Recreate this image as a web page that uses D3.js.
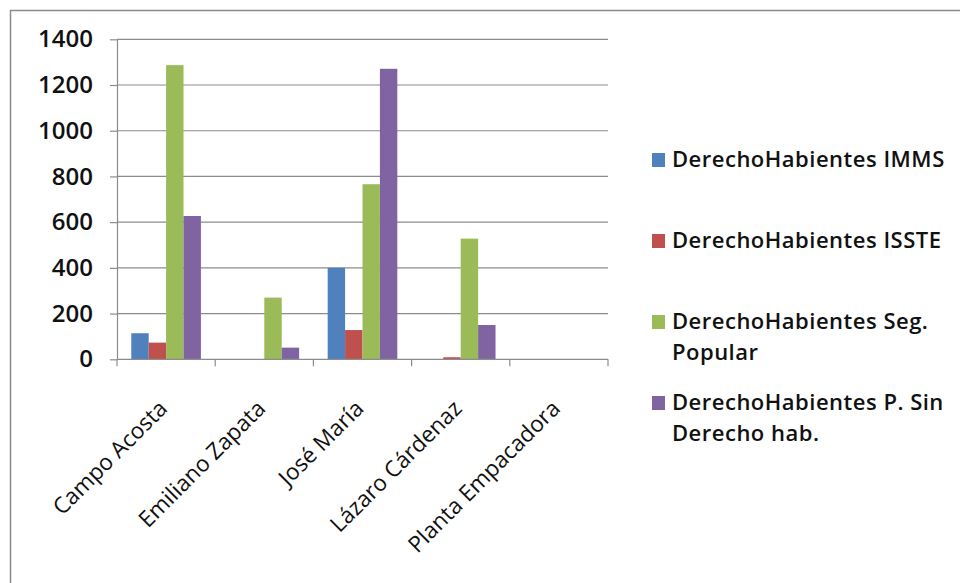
<!DOCTYPE html>
<html>
<head>
<meta charset="utf-8">
<script src="https://cdn.jsdelivr.net/npm/d3@7"></script>
<style>
  html, body { margin: 0; padding: 0; background: #fff; }
  svg { display: block; }
</style>
</head>
<body>
<svg id="chart" width="960" height="583"></svg>
<script>
// Localidades
const categories = ["Campo Acosta", "Emiliano Zapata", "José María", "Lázaro Cárdenaz", "Planta Empacadora"];

// Series names (legend order)
const seriesNames = [
  "DerechoHabientes IMMS",
  "DerechoHabientes ISSTE",
  "DerechoHabientes Seg. Popular",
  "DerechoHabientes P. Sin Derecho hab."
];

// Values per localidad, one array per series
const imms     = [114, 0, 400, 0, 0];
const isste    = [73, 0, 128, 9, 0];
const segPop   = [1287, 270, 766, 528, 0];
const sinDer   = [627, 51, 1271, 150, 0];

const yTicks = [0, 200, 400, 600, 800, 1000, 1200, 1400];

const seriesValues = [imms, isste, segPop, sinDer];
const colors = ["#4F81BD", "#C0504D", "#9BBB59", "#8064A2"];

const svg = d3.select("#chart");

// outer chart frame
svg.append("rect")
  .attr("x", 10.5).attr("y", 10.5)
  .attr("width", 1000).attr("height", 1000)
  .attr("fill", "#fff")
  .attr("stroke", "#8a8a8a")
  .attr("stroke-width", 1.5);

const plot = { left: 117, right: 608, top: 39.3, bottom: 359.3 };

const x0 = d3.scaleBand()
  .domain(categories)
  .range([plot.left, plot.right])
  .paddingInner(0)
  .paddingOuter(0);

const x1 = d3.scaleBand()
  .domain(d3.range(seriesNames.length))
  .range([0, x0.bandwidth()])
  .paddingOuter(0.82)
  .paddingInner(0);

const y = d3.scaleLinear()
  .domain([0, 1400])
  .range([plot.bottom, plot.top]);

// gridlines
svg.append("g")
  .selectAll("line")
  .data(yTicks.filter(d => d > 0))
  .join("line")
  .attr("x1", plot.left).attr("x2", plot.right)
  .attr("y1", d => y(d)).attr("y2", d => y(d))
  .attr("stroke", "#8c8c8c")
  .attr("stroke-width", 1.2);

// bars
const groups = svg.append("g")
  .selectAll("g")
  .data(categories)
  .join("g")
  .attr("transform", d => `translate(${x0(d)},0)`);

groups.selectAll("rect")
  .data((c, ci) => seriesValues.map((vals, si) => ({ si, v: vals[ci] })))
  .join("rect")
  .attr("x", d => x1(d.si))
  .attr("width", x1.bandwidth())
  .attr("y", d => y(d.v))
  .attr("height", d => y(0) - y(d.v))
  .attr("fill", d => colors[d.si]);

// y axis
const yAxis = svg.append("g")
  .attr("transform", `translate(${plot.left},0)`)
  .call(d3.axisLeft(y).tickValues(yTicks).tickFormat(d3.format("d"))
    .tickSize(7).tickPadding(17).tickSizeOuter(0));
yAxis.select(".domain").attr("stroke", "#8c8c8c").attr("stroke-width", 1.2);
yAxis.selectAll(".tick line").attr("stroke", "#8c8c8c").attr("stroke-width", 1.2);
yAxis.selectAll(".tick text")
  .attr("font-family", "'Open Sans', sans-serif")
  .attr("font-weight", 600)
  .attr("font-size", 24)
  .attr("fill", "#111");

// x axis line with ticks at category boundaries
const xAxisG = svg.append("g");
xAxisG.append("line")
  .attr("x1", plot.left).attr("x2", plot.right)
  .attr("y1", y(0)).attr("y2", y(0))
  .attr("stroke", "#8c8c8c").attr("stroke-width", 1.2);
const boundaries = categories.map(c => x0(c)).concat([x0(categories[categories.length - 1]) + x0.bandwidth()]);
xAxisG.selectAll("line.tick")
  .data(boundaries)
  .join("line")
  .attr("class", "tick")
  .attr("x1", d => d).attr("x2", d => d)
  .attr("y1", y(0)).attr("y2", y(0) + 7)
  .attr("stroke", "#8c8c8c").attr("stroke-width", 1.2);

// rotated category labels
xAxisG.selectAll("text")
  .data(categories)
  .join("text")
  .attr("transform", d => `translate(${x0(d) + x0.bandwidth() / 2 - 3},${y(0) + 45}) rotate(-45)`)
  .attr("text-anchor", "end")
  .attr("dy", "0.35em")
  .attr("font-family", "'Open Sans', sans-serif")
  .attr("font-size", 22.5)
  .attr("fill", "#111")
  .text(d => d);

// legend
const legendItems = [
  { lines: ["DerechoHabientes IMMS"], base: 167 },
  { lines: ["DerechoHabientes ISSTE"], base: 248 },
  { lines: ["DerechoHabientes Seg.", "Popular"], base: 329 },
  { lines: ["DerechoHabientes P. Sin", "Derecho hab."], base: 410 }
];
const legend = svg.append("g");
legendItems.forEach((item, i) => {
  legend.append("rect")
    .attr("x", 652).attr("y", item.base - 14)
    .attr("width", 13).attr("height", 14)
    .attr("fill", colors[i]);
  const t = legend.append("text")
    .attr("x", 672).attr("y", item.base)
    .attr("font-family", "'Open Sans', sans-serif")
    .attr("font-weight", 600)
    .attr("font-size", 22)
    .attr("letter-spacing", 0.5)
    .attr("fill", "#111");
  item.lines.forEach((ln, li) => {
    t.append("tspan").attr("x", 672).attr("y", item.base + li * 31).text(ln);
  });
});
</script>
</body>
</html>
